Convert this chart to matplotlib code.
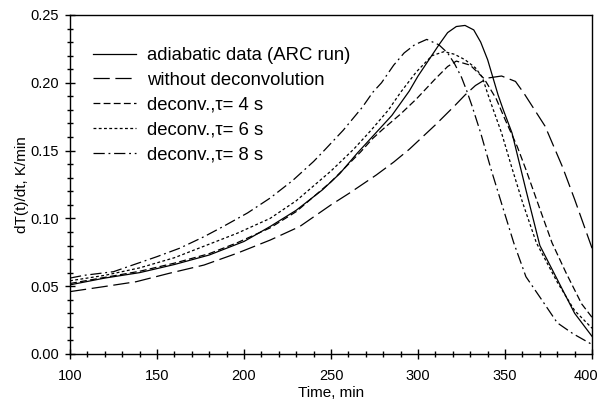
import numpy as np
import matplotlib
matplotlib.use('Agg')
import matplotlib.pyplot as plt
import matplotlib.transforms as mtransforms
from matplotlib.ticker import MultipleLocator, FormatStrFormatter

plt.rcParams['font.family'] = ['Liberation Sans', 'DejaVu Sans']

# values: time in min, dT/dt in K/min
t_arc = [100, 120, 140, 160, 180, 200, 215, 230, 245, 255, 265, 275, 285, 295, 300,
         312, 317, 322, 327, 332, 336, 340, 343, 346, 349, 354, 362, 370, 380, 390, 400]
v_arc = [0.051, 0.056, 0.060, 0.066, 0.073, 0.083, 0.094, 0.106, 0.121, 0.133, 0.148,
         0.162, 0.176, 0.194, 0.205, 0.228, 0.237, 0.2415, 0.2423, 0.239, 0.230, 0.217,
         0.204, 0.191, 0.180, 0.163, 0.121, 0.080, 0.055, 0.030, 0.013]

t_raw = [100, 119, 138, 157, 177, 196, 215, 232, 250, 261, 276, 286, 295, 300, 310,
         321, 327, 333, 340, 348, 356, 361, 367, 373, 379, 383, 390, 400]
v_raw = [0.046, 0.0496, 0.0533, 0.0595, 0.0656, 0.0743, 0.084, 0.094, 0.110, 0.119,
         0.132, 0.1415, 0.151, 0.157, 0.169, 0.183, 0.191, 0.198, 0.2035, 0.205, 0.201,
         0.192, 0.180, 0.168, 0.150, 0.138, 0.114, 0.078]

t_tau4 = [100, 120, 140, 160, 180, 196, 215, 230, 250, 267, 274, 280, 290, 299, 310,
          317, 322, 330, 338, 345, 350, 357, 362, 370, 377, 385, 394, 400]
v_tau4 = [0.052, 0.0565, 0.061, 0.067, 0.074, 0.082, 0.093, 0.105, 0.127, 0.149, 0.159,
          0.166, 0.177, 0.188, 0.203, 0.212, 0.216, 0.213, 0.203, 0.188, 0.173, 0.153,
          0.136, 0.107, 0.082, 0.060, 0.037, 0.027]

t_tau6 = [100, 120, 140, 160, 180, 196, 215, 230, 250, 263, 273, 283, 290, 299, 308,
          315, 321, 327, 333, 337, 340, 343, 348, 354, 360, 368, 380, 390, 400]
v_tau6 = [0.054, 0.058, 0.0635, 0.071, 0.081, 0.089, 0.100, 0.113, 0.135, 0.151, 0.165,
          0.180, 0.193, 0.208, 0.220, 0.223, 0.221, 0.217, 0.211, 0.204, 0.192, 0.181,
          0.163, 0.137, 0.112, 0.082, 0.053, 0.032, 0.019]

t_tau8 = [100, 108, 125, 136, 150, 163, 177, 188, 202, 215, 228, 240, 246, 257, 268,
          274, 279, 286, 292, 298, 305, 312, 317, 321, 325, 328, 331, 336, 342, 348,
          355, 362, 370, 380, 389, 400]
v_tau8 = [0.056, 0.058, 0.0607, 0.0656, 0.0718, 0.078, 0.0865, 0.094, 0.104, 0.115,
          0.128, 0.142, 0.150, 0.165, 0.182, 0.193, 0.200, 0.213, 0.222, 0.228, 0.232,
          0.228, 0.222, 0.214, 0.204, 0.194, 0.183, 0.163, 0.136, 0.111, 0.082, 0.057,
          0.042, 0.023, 0.015, 0.007]

labels = ['adiabatic data (ARC run)', 'without deconvolution',
          'deconv.,\u03c4= 4 s', 'deconv.,\u03c4= 6 s', 'deconv.,\u03c4= 8 s']

fig = plt.figure(figsize=(5.99, 4.03), dpi=100)
ax = fig.add_axes([0.1169, 0.1216, 0.8715, 0.8412])

lw = 0.9
ax.plot(t_arc, v_arc, color='k', lw=lw, label=labels[0])
ax.plot(t_raw, v_raw, color='k', lw=lw, dashes=(13, 4.5), label=labels[1])
ax.plot(t_tau4, v_tau4, color='k', lw=lw, dashes=(5.5, 2.6), label=labels[2])
ax.plot(t_tau6, v_tau6, color='k', lw=lw, dashes=(2.3, 1.9), label=labels[3])
ax.plot(t_tau8, v_tau8, color='k', lw=lw, dashes=(9, 3, 1.5, 3), label=labels[4])

ax.set_xlim(100, 400)
ax.set_ylim(0, 0.25)
ax.xaxis.set_major_locator(MultipleLocator(50))
ax.xaxis.set_minor_locator(MultipleLocator(10))
ax.yaxis.set_major_locator(MultipleLocator(0.05))
ax.yaxis.set_minor_locator(MultipleLocator(0.01))
ax.yaxis.set_major_formatter(FormatStrFormatter('%.2f'))
ax.tick_params(which='major', direction='inout', length=7, width=1, labelsize=10.5)
ax.tick_params(which='minor', direction='inout', length=4, width=1)
ax.tick_params(axis='x', which='major', pad=7.5)
ax.tick_params(axis='y', which='major', pad=4.5)
for s in ax.spines.values():
    s.set_linewidth(1)

ax.set_xlabel('Time, min', fontsize=11, labelpad=2)
ax.set_ylabel('dT(t)/dt, K/min', fontsize=11, labelpad=1)

# the "400" label is pulled a little inside the figure edge, as in the original
fig.canvas.draw()
for lab in ax.get_xticklabels():
    if lab.get_text() == '400':
        lab.set_transform(lab.get_transform() +
                          mtransforms.ScaledTranslation(-6 / 100, 0, fig.dpi_scale_trans))

leg = ax.legend(loc='upper left', bbox_to_anchor=(0.044, 0.905), frameon=False,
                fontsize=13.3, handlelength=2.35, handletextpad=0.55, labelspacing=0.42,
                borderpad=0, borderaxespad=0)

fig.savefig('out.png', dpi=100)
